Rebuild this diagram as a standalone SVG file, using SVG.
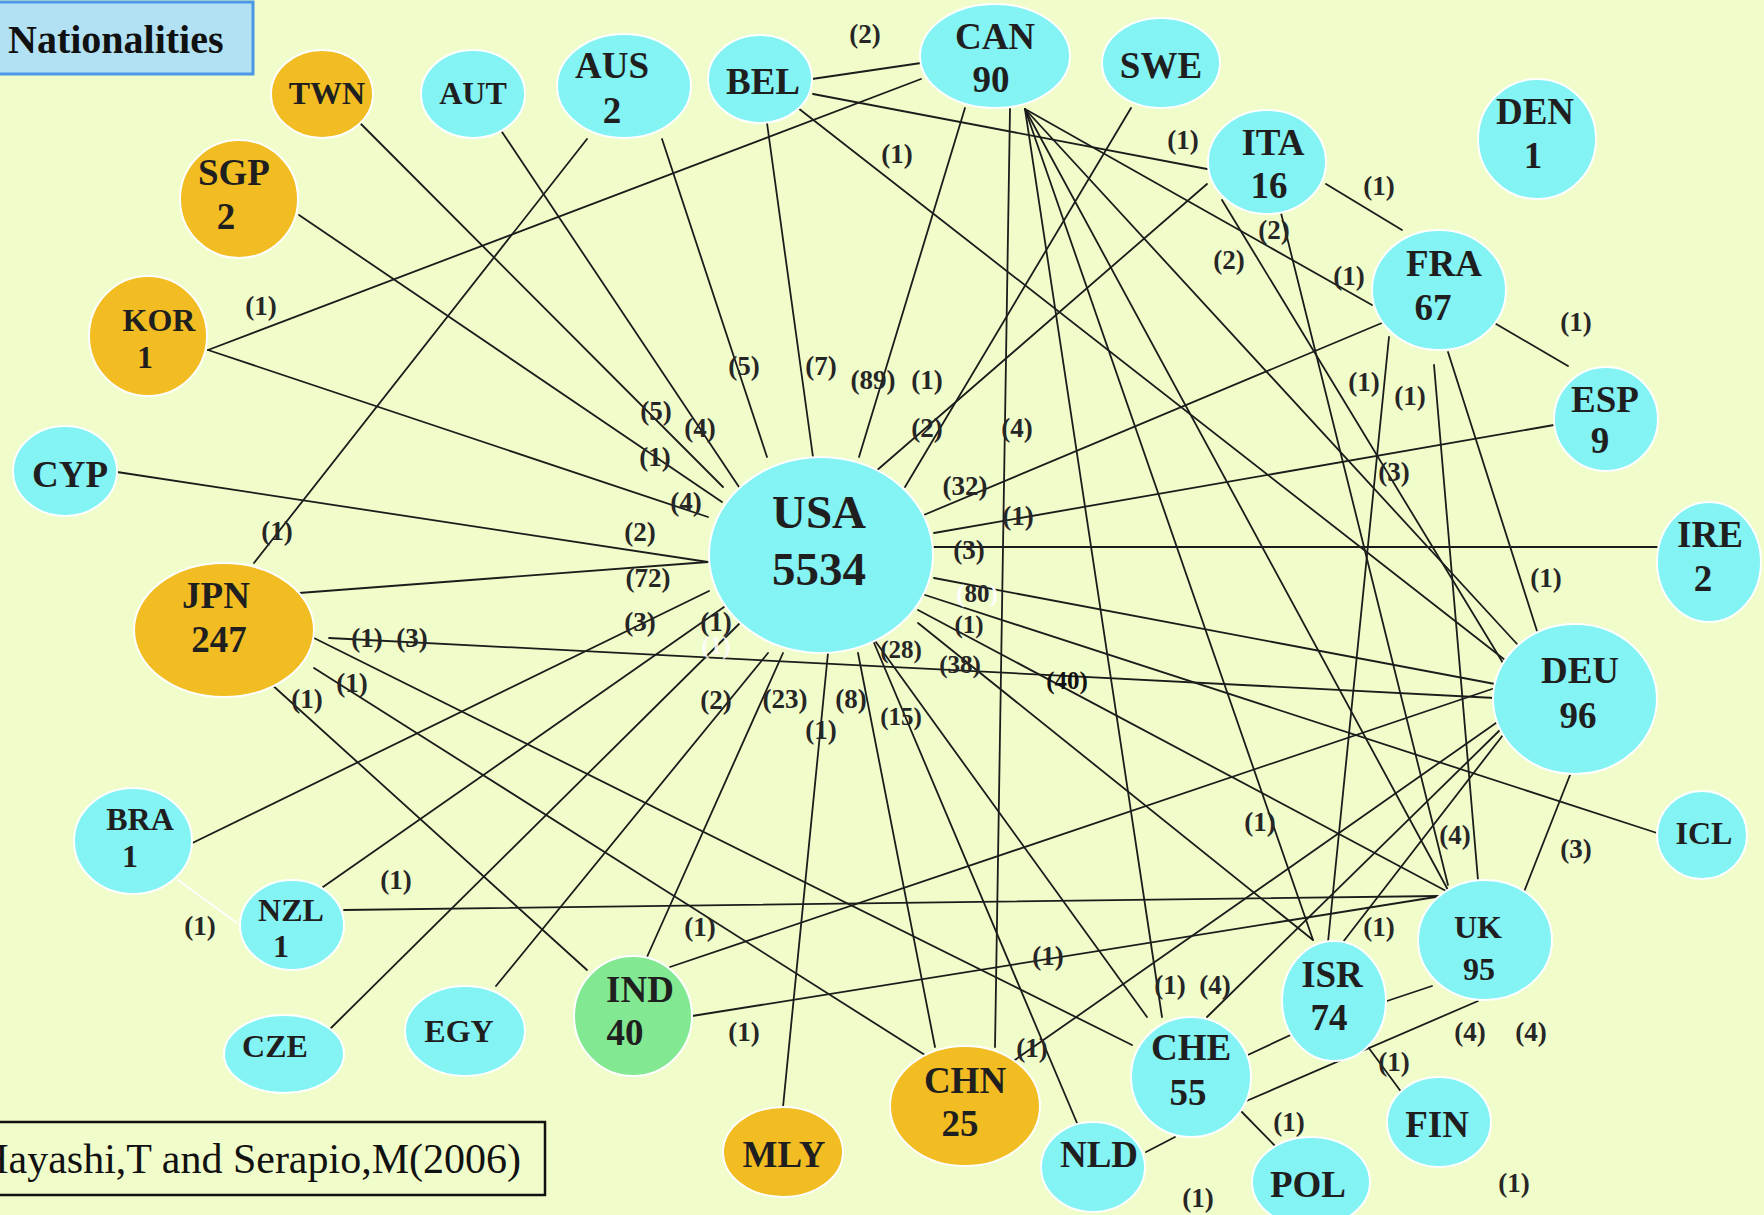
<svg xmlns="http://www.w3.org/2000/svg" width="1764" height="1215" viewBox="0 0 1764 1215">
<style>
  .bg{fill:#f0fcc9}
  .cy{fill:#84f3f3;stroke:#ffffff;stroke-width:2}
  .au{fill:#f1bd22;stroke:#ffffff;stroke-width:2}
  .gr{fill:#82e891;stroke:#ffffff;stroke-width:2}
  .nm{font-family:"Liberation Serif","Times New Roman",serif;font-weight:bold;font-size:37px;fill:#1f1f1f;text-anchor:middle}
  .s{font-size:32px}
  .big{font-size:47px}
  .lb{font-family:"Liberation Serif","Times New Roman",serif;font-weight:bold;font-size:27px;fill:#262626;text-anchor:middle}
  .lb.t{font-size:25px}
  .lb.ghost{fill:#ffffff;opacity:0.85}
  .lb.dark{fill:#111111}
  .lb .num{fill:#262626}
  .lb.halo{fill:#ffffff}
  .edges line{stroke:#1c1c1c;stroke-width:1.8;stroke-linecap:round}
  .edges line.w{stroke:#ffffff;stroke-width:1.6}
</style>
<rect class="bg" x="0" y="0" width="1764" height="1215"/>

<!-- connectors -->
<g id="connectors" class="edges">
  <line x1="812" y1="79" x2="921" y2="63"/>
  <line x1="813" y1="94" x2="1207" y2="169"/>
  <line x1="798" y1="108" x2="1505" y2="660"/>
  <line x1="921" y1="79" x2="208" y2="350"/>
  <line x1="208" y1="350" x2="708" y2="517"/>
  <line x1="360" y1="123" x2="723" y2="487"/>
  <line x1="496" y1="123" x2="739" y2="487"/>
  <line x1="299" y1="215" x2="722" y2="502"/>
  <line x1="587" y1="139" x2="254" y2="563"/>
  <line x1="662" y1="139" x2="767" y2="457"/>
  <line x1="767" y1="123" x2="813" y2="457"/>
  <line x1="965" y1="108" x2="859" y2="457"/>
  <line x1="1010" y1="109" x2="995" y2="1047"/>
  <line x1="1131" y1="108" x2="905" y2="487"/>
  <line x1="1207" y1="184" x2="875" y2="472"/>
  <line x1="1389" y1="320" x2="919" y2="517"/>
  <line x1="1554" y1="425" x2="934" y2="533"/>
  <line x1="934" y1="547" x2="1657" y2="547"/>
  <line x1="934" y1="578" x2="1495" y2="684"/>
  <line x1="919" y1="593" x2="1657" y2="833"/>
  <line x1="918" y1="610" x2="1448" y2="892"/>
  <line x1="918" y1="623" x2="1313" y2="940"/>
  <line x1="873" y1="638" x2="1147" y2="1017"/>
  <line x1="872" y1="638" x2="1077" y2="1123"/>
  <line x1="858" y1="653" x2="935" y2="1047"/>
  <line x1="828" y1="653" x2="783" y2="1107"/>
  <line x1="783" y1="653" x2="647" y2="957"/>
  <line x1="768" y1="653" x2="496" y2="986"/>
  <line x1="739" y1="624" x2="329" y2="1030"/>
  <line x1="724" y1="607" x2="323" y2="887"/>
  <line x1="709" y1="591" x2="178" y2="850"/>
  <line x1="117" y1="472" x2="708" y2="562"/>
  <line x1="299" y1="593" x2="708" y2="562"/>
  <line x1="329" y1="638" x2="1495" y2="698"/>
  <line x1="314" y1="638" x2="1132" y2="1045"/>
  <line x1="314" y1="668" x2="936" y2="1062"/>
  <line x1="270" y1="683" x2="587" y2="970"/>
  <line x1="344" y1="910" x2="1440" y2="896"/>
  <line class="w" x1="178" y1="880" x2="237" y2="923"/>
  <line x1="692" y1="1016" x2="1448" y2="895"/>
  <line x1="670" y1="967" x2="1495" y2="688"/>
  <line x1="1012" y1="1062" x2="1496" y2="723"/>
  <line x1="1207" y1="1017" x2="1500" y2="730"/>
  <line x1="1025" y1="109" x2="1162" y2="1017"/>
  <line x1="1025" y1="109" x2="1313" y2="940"/>
  <line x1="1025" y1="109" x2="1448" y2="890"/>
  <line x1="1025" y1="109" x2="1517" y2="644"/>
  <line x1="1025" y1="109" x2="1372" y2="305"/>
  <line x1="1281" y1="213" x2="1448" y2="885"/>
  <line x1="1222" y1="200" x2="1503" y2="663"/>
  <line x1="1326" y1="184" x2="1402" y2="230"/>
  <line x1="1491" y1="321" x2="1568" y2="366"/>
  <line x1="1389" y1="337" x2="1328" y2="942"/>
  <line x1="1434" y1="365" x2="1478" y2="880"/>
  <line x1="1448" y1="352" x2="1537" y2="631"/>
  <line x1="1522" y1="897" x2="1570" y2="775"/>
  <line x1="1343" y1="942" x2="1503" y2="735"/>
  <line x1="1432" y1="986" x2="1387" y2="1001"/>
  <line x1="1478" y1="1001" x2="1237" y2="1105"/>
  <line x1="1237" y1="1060" x2="1297" y2="1032"/>
  <line x1="1237" y1="1107" x2="1282" y2="1153"/>
  <line x1="1357" y1="1032" x2="1402" y2="1093"/>
  <line x1="1175" y1="1137" x2="1146" y2="1152"/>
</g>

<!-- title -->
<g id="title">
  <rect x="-2" y="2" width="255" height="72" fill="#b2e1f3" stroke="#4b97e6" stroke-width="3"/>
  <text x="8" y="53" font-family="Liberation Serif, Times New Roman, serif" font-weight="bold" font-size="40" fill="#111">Nationalities</text>
</g>

<!-- countries -->
<g id="n-USA"><ellipse class="cy" cx="821" cy="555" rx="112" ry="98"/><text class="nm big" x="819" y="528">USA</text><text class="nm big" x="819" y="585">5534</text></g>
<g id="n-CAN"><ellipse class="cy" cx="995" cy="56" rx="75" ry="52"/><text class="nm" x="995" y="49">CAN</text><text class="nm" x="991" y="92">90</text></g>
<g id="n-BEL"><ellipse class="cy" cx="760" cy="79" rx="52" ry="44"/><text class="nm" x="763" y="94">BEL</text></g>
<g id="n-AUS"><ellipse class="cy" cx="624" cy="86" rx="67" ry="52"/><text class="nm" x="612" y="78">AUS</text><text class="nm" x="612" y="123">2</text></g>
<g id="n-AUT"><ellipse class="cy" cx="473" cy="94" rx="52" ry="44"/><text class="nm s" x="473" y="104">AUT</text></g>
<g id="n-TWN"><ellipse class="au" cx="322" cy="94" rx="51" ry="44"/><text class="nm s" x="327" y="104">TWN</text></g>
<g id="n-SGP"><ellipse class="au" cx="239" cy="199" rx="59" ry="59"/><text class="nm" x="234" y="185">SGP</text><text class="nm" x="226" y="229">2</text></g>
<g id="n-KOR"><ellipse class="au" cx="148" cy="336" rx="59" ry="60"/><text class="nm s" x="159" y="331">KOR</text><text class="nm s" x="145" y="368">1</text></g>
<g id="n-CYP"><ellipse class="cy" cx="65" cy="471" rx="52" ry="45"/><text class="nm" x="70" y="487">CYP</text></g>
<g id="n-JPN"><ellipse class="au" cx="224" cy="630" rx="90" ry="67"/><text class="nm" x="216" y="608">JPN</text><text class="nm" x="219" y="652">247</text></g>
<g id="n-BRA"><ellipse class="cy" cx="133" cy="841" rx="59" ry="53"/><text class="nm s" x="140" y="830">BRA</text><text class="nm s" x="130" y="867">1</text></g>
<g id="n-NZL"><ellipse class="cy" cx="292" cy="925" rx="52" ry="45"/><text class="nm s" x="291" y="921">NZL</text><text class="nm s" x="281" y="957">1</text></g>
<g id="n-CZE"><ellipse class="cy" cx="284" cy="1054" rx="60" ry="39"/><text class="nm s" x="275" y="1057">CZE</text></g>
<g id="n-EGY"><ellipse class="cy" cx="465" cy="1031" rx="60" ry="45"/><text class="nm s" x="459" y="1042">EGY</text></g>
<g id="n-IND"><ellipse class="gr" cx="633" cy="1016" rx="59" ry="60"/><text class="nm" x="640" y="1002">IND</text><text class="nm" x="625" y="1045">40</text></g>
<g id="n-MLY"><ellipse class="au" cx="783" cy="1152" rx="60" ry="45"/><text class="nm" x="784" y="1167">MLY</text></g>
<g id="n-CHN"><ellipse class="au" cx="965" cy="1106" rx="75" ry="60"/><text class="nm" x="965" y="1093">CHN</text><text class="nm" x="960" y="1136">25</text></g>
<g id="n-NLD"><ellipse class="cy" cx="1093" cy="1167" rx="52" ry="45"/><text class="nm" x="1099" y="1167">NLD</text></g>
<g id="n-CHE"><ellipse class="cy" cx="1191" cy="1077" rx="60" ry="60"/><text class="nm" x="1191" y="1060">CHE</text><text class="nm" x="1188" y="1105">55</text></g>
<g id="n-POL"><ellipse class="cy" cx="1311" cy="1182" rx="59" ry="45"/><text class="nm" x="1308" y="1197">POL</text></g>
<g id="n-ISR"><ellipse class="cy" cx="1334" cy="1001" rx="52" ry="60"/><text class="nm" x="1332" y="987">ISR</text><text class="nm" x="1329" y="1030">74</text></g>
<g id="n-FIN"><ellipse class="cy" cx="1439" cy="1122" rx="52" ry="45"/><text class="nm" x="1437" y="1137">FIN</text></g>
<g id="n-UK"><ellipse class="cy" cx="1485" cy="940" rx="67" ry="60"/><text class="nm s" x="1478" y="938">UK</text><text class="nm s" x="1479" y="980">95</text></g>
<g id="n-ICL"><ellipse class="cy" cx="1702" cy="835" rx="45" ry="44"/><text class="nm s" x="1704" y="844">ICL</text></g>
<g id="n-DEU"><ellipse class="cy" cx="1575" cy="699" rx="82" ry="75"/><text class="nm" x="1580" y="683">DEU</text><text class="nm" x="1578" y="728">96</text></g>
<g id="n-IRE"><ellipse class="cy" cx="1709" cy="562" rx="52" ry="60"/><text class="nm" x="1710" y="547">IRE</text><text class="nm" x="1703" y="591">2</text></g>
<g id="n-ESP"><ellipse class="cy" cx="1606" cy="419" rx="52" ry="52"/><text class="nm" x="1605" y="412">ESP</text><text class="nm" x="1600" y="453">9</text></g>
<g id="n-FRA"><ellipse class="cy" cx="1439" cy="290" rx="67" ry="60"/><text class="nm" x="1444" y="276">FRA</text><text class="nm" x="1433" y="320">67</text></g>
<g id="n-DEN"><ellipse class="cy" cx="1537" cy="139" rx="59" ry="60"/><text class="nm" x="1535" y="124">DEN</text><text class="nm" x="1533" y="168">1</text></g>
<g id="n-ITA"><ellipse class="cy" cx="1267" cy="162" rx="59" ry="52"/><text class="nm" x="1273" y="155">ITA</text><text class="nm" x="1269" y="198">16</text></g>
<g id="n-SWE"><ellipse class="cy" cx="1161" cy="63" rx="59" ry="45"/><text class="nm" x="1161" y="78">SWE</text></g>

<!-- edge weights -->
<g id="weights">
  <text class="lb" x="865" y="43">(2)</text>
  <text class="lb" x="897" y="163">(1)</text>
  <text class="lb" x="1183" y="149">(1)</text>
  <text class="lb" x="1379" y="195">(1)</text>
  <text class="lb" x="1349" y="285">(1)</text>
  <text class="lb" x="1274" y="239">(2)</text>
  <text class="lb" x="1229" y="269">(2)</text>
  <text class="lb" x="1576" y="331">(1)</text>
  <text class="lb" x="1364" y="391">(1)</text>
  <text class="lb" x="1410" y="405">(1)</text>
  <text class="lb" x="1394" y="481">(3)</text>
  <text class="lb" x="1546" y="587">(1)</text>
  <text class="lb" x="261" y="315">(1)</text>
  <text class="lb" x="744" y="375">(5)</text>
  <text class="lb" x="821" y="375">(7)</text>
  <text class="lb" x="873" y="389">(89)</text>
  <text class="lb" x="927" y="389">(1)</text>
  <text class="lb" x="927" y="437">(2)</text>
  <text class="lb" x="1017" y="437">(4)</text>
  <text class="lb" x="656" y="420">(5)</text>
  <text class="lb" x="700" y="437">(4)</text>
  <text class="lb" x="655" y="466">(1)</text>
  <text class="lb" x="686" y="511">(4)</text>
  <text class="lb" x="965" y="495">(32)</text>
  <text class="lb" x="1018" y="525">(1)</text>
  <text class="lb" x="969" y="559">(3)</text>
  <text class="lb" x="640" y="541">(2)</text>
  <text class="lb" x="648" y="587">(72)</text>
  <text class="lb" x="277" y="540">(1)</text>
  <text class="lb t halo" x="977" y="602">(<tspan class="num">80</tspan>)</text>
  <text class="lb t" x="969" y="633">(1)</text>
  <text class="lb" x="640" y="631">(3)</text>
  <text class="lb t ghost" x="716" y="654">(1)</text>
  <text class="lb" x="716" y="631">(1)</text>
  <text class="lb t" x="901" y="658">(28)</text>
  <text class="lb t" x="960" y="673">(38)</text>
  <text class="lb t dark" x="1067" y="689">(40)</text>
  <text class="lb" x="367" y="647">(1)</text>
  <text class="lb" x="412" y="647">(3)</text>
  <text class="lb" x="352" y="692">(1)</text>
  <text class="lb" x="307" y="708">(1)</text>
  <text class="lb" x="716" y="709">(2)</text>
  <text class="lb" x="785" y="708">(23)</text>
  <text class="lb" x="851" y="708">(8)</text>
  <text class="lb t" x="901" y="725">(15)</text>
  <text class="lb" x="821" y="739">(1)</text>
  <text class="lb" x="1260" y="831">(1)</text>
  <text class="lb" x="1455" y="844">(4)</text>
  <text class="lb" x="1576" y="858">(3)</text>
  <text class="lb" x="396" y="889">(1)</text>
  <text class="lb" x="200" y="935">(1)</text>
  <text class="lb" x="700" y="936">(1)</text>
  <text class="lb" x="1048" y="965">(1)</text>
  <text class="lb" x="1379" y="936">(1)</text>
  <text class="lb" x="1170" y="994">(1)</text>
  <text class="lb" x="1215" y="994">(4)</text>
  <text class="lb" x="744" y="1041">(1)</text>
  <text class="lb" x="1032" y="1057">(1)</text>
  <text class="lb" x="1470" y="1041">(4)</text>
  <text class="lb" x="1531" y="1041">(4)</text>
  <text class="lb" x="1394" y="1071">(1)</text>
  <text class="lb" x="1289" y="1131">(1)</text>
  <text class="lb" x="1198" y="1207">(1)</text>
  <text class="lb" x="1514" y="1192">(1)</text>
</g>

<!-- source -->
<g id="source">
  <rect x="-3" y="1122" width="548" height="73" fill="none" stroke="#111" stroke-width="2.5"/>
  <text x="521" y="1173" text-anchor="end" font-family="Liberation Serif, Times New Roman, serif" font-size="42" fill="#111">Hayashi,T and Serapio,M(2006)</text>
</g>
</svg>
